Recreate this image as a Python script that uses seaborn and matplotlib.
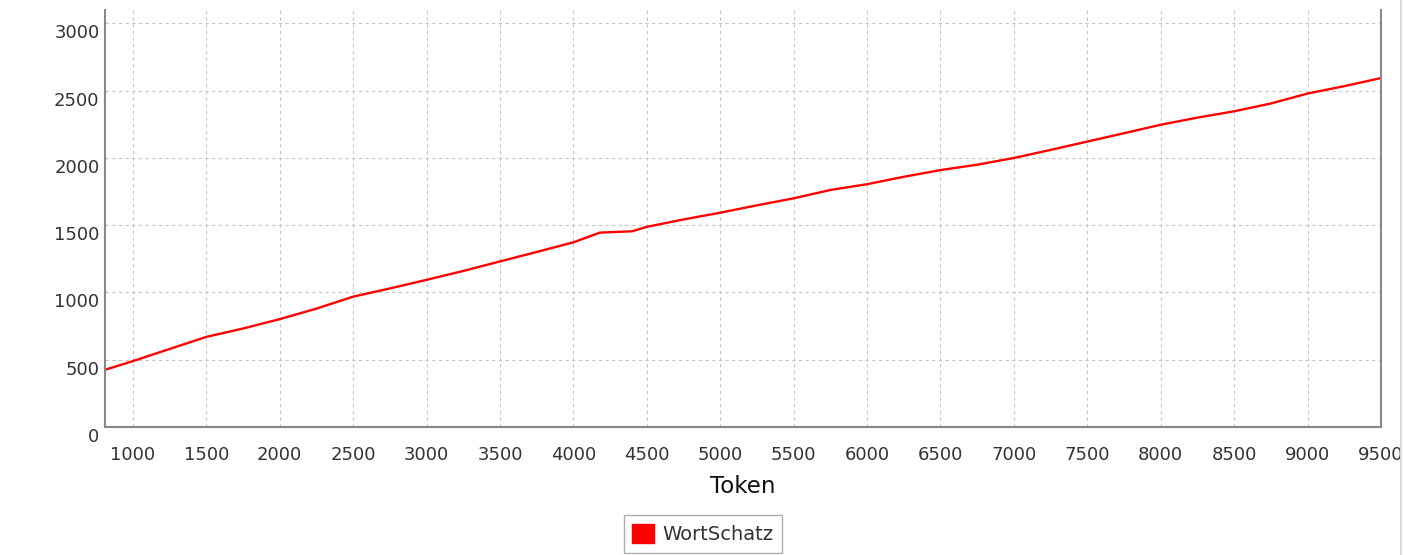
import matplotlib
matplotlib.use("Agg")
import matplotlib.pyplot as plt
import matplotlib.transforms as mtransforms
from matplotlib.patches import Patch
from matplotlib.lines import Line2D
import seaborn as sns
import pandas as pd

tokens = [810, 1000, 1250, 1500, 1750, 2000, 2250, 2500, 2750, 3000, 3250, 3500,
          3750, 4000, 4180, 4400, 4500, 4750, 5000, 5250, 5500, 5750, 6000, 6250,
          6500, 6750, 7000, 7250, 7500, 7750, 8000, 8250, 8500, 8750, 9000, 9250, 9500]
wortschatz = [425, 490, 580, 670, 732, 802, 880, 969, 1030, 1094, 1160, 1231,
              1301, 1373, 1445, 1455, 1488, 1543, 1593, 1648, 1700, 1762, 1805, 1860,
              1910, 1950, 2000, 2060, 2122, 2184, 2247, 2300, 2347, 2405, 2479, 2534, 2594]
x_ticks = [1000, 1500, 2000, 2500, 3000, 3500, 4000, 4500, 5000, 5500, 6000, 6500,
           7000, 7500, 8000, 8500, 9000, 9500]
y_ticks = [0, 500, 1000, 1500, 2000, 2500, 3000]
series_name = "WortSchatz"
x_label = "Token"

df = pd.DataFrame({"Token": tokens, "WortSchatz": wortschatz})

sns.set_style("white")
plt.rcParams["font.family"] = ["DejaVu Sans"]

W, H = 1404, 555
fig = plt.figure(figsize=(W / 100, H / 100), dpi=100)
fig.patch.set_facecolor("white")
left, right, top, bottom = 105, 1381, 10, 427
ax = fig.add_axes([left / W, 1 - bottom / H, (right - left) / W, (bottom - top) / H])

sns.lineplot(data=df, x="Token", y="WortSchatz", ax=ax, color="#ff0000",
             linewidth=1.7, legend=False)

ax.set_xlim(810, 9500)
ax.set_ylim(0, 3100)
ax.set_xticks(x_ticks)
ax.set_yticks(y_ticks)
ax.set_xticklabels([str(v) for v in x_ticks])
ax.set_yticklabels([str(v) for v in y_ticks])
ax.tick_params(axis="both", length=0, labelsize=13, colors="#333333")
ax.tick_params(axis="x", pad=13.5)
ax.tick_params(axis="y", pad=4)
offset = mtransforms.ScaledTranslation(0, -8 / 100, fig.dpi_scale_trans)
for lab in ax.get_yticklabels():
    lab.set_transform(lab.get_transform() + offset)

ax.grid(True, color="#c4c4c4", linewidth=0.8, linestyle=(0, (3, 3)))
ax.set_axisbelow(True)
for side in ["left", "bottom", "right"]:
    ax.spines[side].set_color("#888888")
    ax.spines[side].set_linewidth(1.5)
ax.spines["top"].set_visible(False)

ax.set_xlabel(x_label, fontsize=16.5, color="#111111", labelpad=8)
ax.set_ylabel("")

handles = [Patch(facecolor="#ff0000", edgecolor="#ff0000", label=series_name)]
leg = fig.legend(handles=handles, loc="center", bbox_to_anchor=(703 / W, 1 - 534 / H),
                 fontsize=14, frameon=True, fancybox=False, edgecolor="#999999",
                 handlelength=1.1, handleheight=1.1, handletextpad=0.45,
                 borderpad=0.45, borderaxespad=0)
leg.get_frame().set_linewidth(1.0)
for t in leg.get_texts():
    t.set_color("#333333")

fig.add_artist(Line2D([1401 / W, 1401 / W], [0, 1], transform=fig.transFigure,
                      color="#d8d8d8", linewidth=1.5))

fig.savefig("out.png", dpi=100)
